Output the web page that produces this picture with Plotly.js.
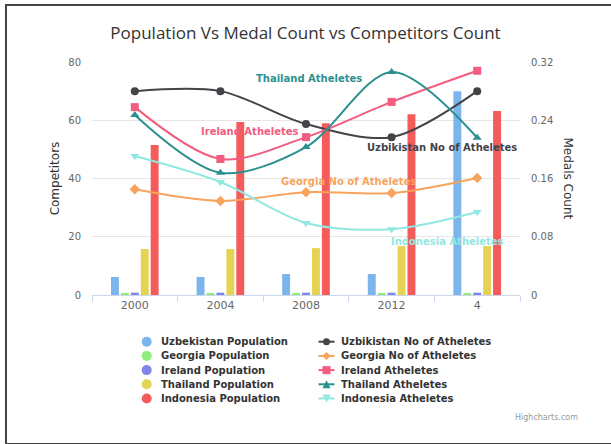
<!DOCTYPE html>
<html>
<head>
<meta charset="utf-8">
<script src="https://cdn.plot.ly/plotly-3.0.1.min.js"></script>
<style>
  html, body { margin: 0; padding: 0; background: #fff; }
  #chart { position: absolute; left: 0; top: 0; width: 611px; height: 444px; }
  #frame { position: absolute; left: 5px; top: 4px; width: 610px; height: 437px; border: 2px solid #444; pointer-events: none; }
</style>
</head>
<body>
<div id="chart"></div>
<div id="frame"></div>
<script>
// ---- data ----
const categories = ["2000", "2004", "2008", "2012", "4"];

const uzbekistanPopulation = [6.2, 6.2, 7.2, 7.2, 70];
const georgiaPopulation    = [0.7, 0.7, 0.7, 0.7, 0.7];
const irelandPopulation    = [0.8, 0.8, 0.8, 0.8, 0.8];
const thailandPopulation   = [15.8, 15.8, 16.1, 16.8, 16.8];
const indonesiaPopulation  = [51.5, 59.4, 59, 62.1, 63.2];

const uzbekistanAthletes = [70, 70, 58.7, 54.2, 70];
const georgiaAthletes    = [36.3, 32.3, 35.3, 35, 40.2];
const irelandAthletes    = [64.5, 46.7, 54.2, 66.3, 77];
const thailandAthletes   = [61.8, 42, 50.8, 76.6, 54];
const indonesiaAthletes  = [47.7, 38.8, 24.7, 22.6, 28.5];

const barNames = ["Uzbekistan Population", "Georgia Population", "Ireland Population", "Thailand Population", "Indonesia Population"];
const lineNames = ["Uzbikistan No of Atheletes", "Georgia No of Atheletes", "Ireland Atheletes", "Thailand Atheletes", "Indonesia Atheletes"];
const medalTicks = [0, 0.08, 0.16, 0.24, 0.32];

// ---- styling ----
const barColors = ["#7cb5ec", "#90ed7d", "#8085e9", "#e4d354", "#f45b5b"];
const lineColors = ["#434348", "#f7a35c", "#f15c80", "#2b908f", "#91e8e1"];
const lineSymbols = ["circle", "diamond", "square", "triangle-up", "triangle-down"];

const barSeries = [uzbekistanPopulation, georgiaPopulation, irelandPopulation, thailandPopulation, indonesiaPopulation];
const lineSeries = [uzbekistanAthletes, georgiaAthletes, irelandAthletes, thailandAthletes, indonesiaAthletes];

const FONT = "DejaVu Sans, sans-serif";
const W = 611, H = 444;
const M = { l: 92, r: 91, t: 62, b: 149 };
const PW = W - M.l - M.r, PH = H - M.t - M.b;
const px2x = px => (px - M.l) / PW;
const py2y = py => (H - M.b - py) / PH;

const traces = [];
barSeries.forEach((vals, i) => {
  traces.push({
    type: "bar", name: barNames[i], x: categories, y: vals,
    marker: { color: barColors[i] }, showlegend: false,
    hoverinfo: "x+y+name"
  });
});
lineSeries.forEach((vals, i) => {
  traces.push({
    type: "scatter", mode: "lines+markers", name: lineNames[i], x: categories, y: vals,
    line: { color: lineColors[i], width: 2, shape: "spline", smoothing: 0.9 },
    marker: { color: lineColors[i], size: 8, symbol: lineSymbols[i] },
    showlegend: false
  });
});
// invisible helper so the right (medals) axis is drawn
traces.push({ type: "scatter", mode: "markers", x: [categories[0]], y: [0], yaxis: "y2",
  marker: { opacity: 0 }, showlegend: false, hoverinfo: "skip" });

// series labels (placed in data coordinates)
const seriesLabels = [
  { text: "Thailand Atheletes", x: 2.04, y: 74.2, color: "#2b908f" },
  { text: "Ireland Atheletes", x: 1.34, y: 56.3, color: "#f15c80" },
  { text: "Uzbikistan No of Atheletes", x: 3.59, y: 50.8, color: "#434348" },
  { text: "Georgia No of Atheletes", x: 2.5, y: 39.1, color: "#f7a35c" },
  { text: "Indonesia Atheletes", x: 3.65, y: 18.2, color: "#91e8e1" }
];

const annotations = seriesLabels.map(l => ({
  text: "<b>" + l.text + "</b>", x: l.x, y: l.y, xref: "x", yref: "y",
  xanchor: "center", yanchor: "middle",
  showarrow: false, font: { family: FONT, size: 10, color: l.color }
}));
annotations.push({
  text: "Medals Count", xref: "paper", yref: "paper", x: px2x(568), y: 0.5,
  xanchor: "center", yanchor: "middle",
  textangle: 90, showarrow: false, font: { family: FONT, size: 12, color: "#333" }
});
annotations.push({
  text: "Highcharts.com", xref: "paper", yref: "paper", x: px2x(513), y: py2y(417),
  xanchor: "left", yanchor: "middle", showarrow: false, font: { family: FONT, size: 8, color: "#999" }
});

// ---- custom legend (two columns, Highcharts-like spacing) ----
const shapes = [];
const rowY = [341.7, 355.9, 370.1, 384.3, 398.5];
const LEFT_SYM = 146.7, LEFT_TXT = 159, RIGHT_SYM = 326.5, RIGHT_TXT = 338.5;
const legendFont = { family: FONT, size: 10, color: "#333" };

function markerPath(symbol, cx, cy, r) {
  const p = (x, y) => px2x(x) + "," + py2y(y);
  if (symbol === "diamond") return "M" + p(cx, cy - r) + "L" + p(cx + r, cy) + "L" + p(cx, cy + r) + "L" + p(cx - r, cy) + "Z";
  if (symbol === "square") return "M" + p(cx - r, cy - r) + "L" + p(cx + r, cy - r) + "L" + p(cx + r, cy + r) + "L" + p(cx - r, cy + r) + "Z";
  if (symbol === "triangle-up") return "M" + p(cx, cy - r) + "L" + p(cx + r, cy + r) + "L" + p(cx - r, cy + r) + "Z";
  if (symbol === "triangle-down") return "M" + p(cx - r, cy - r) + "L" + p(cx + r, cy - r) + "L" + p(cx, cy + r) + "Z";
  return null;
}

barNames.forEach((name, i) => {
  const cy = rowY[i];
  shapes.push({
    type: "circle", xref: "paper", yref: "paper",
    x0: px2x(LEFT_SYM - 5), x1: px2x(LEFT_SYM + 5), y0: py2y(cy + 5), y1: py2y(cy - 5),
    fillcolor: barColors[i], line: { width: 0 }
  });
  annotations.push({
    text: "<b>" + name + "</b>", xref: "paper", yref: "paper", x: px2x(LEFT_TXT), y: py2y(cy),
    xanchor: "left", yanchor: "middle", showarrow: false, font: legendFont
  });
});
lineNames.forEach((name, i) => {
  const cy = rowY[i];
  shapes.push({
    type: "line", xref: "paper", yref: "paper",
    x0: px2x(RIGHT_SYM - 8), x1: px2x(RIGHT_SYM + 8), y0: py2y(cy), y1: py2y(cy),
    line: { color: lineColors[i], width: 2 }
  });
  const sym = lineSymbols[i];
  if (sym === "circle") {
    shapes.push({
      type: "circle", xref: "paper", yref: "paper",
      x0: px2x(RIGHT_SYM - 3.5), x1: px2x(RIGHT_SYM + 3.5), y0: py2y(cy + 3.5), y1: py2y(cy - 3.5),
      fillcolor: lineColors[i], line: { width: 0 }
    });
  } else {
    shapes.push({
      type: "path", xref: "paper", yref: "paper", path: markerPath(sym, RIGHT_SYM, cy, 4),
      fillcolor: lineColors[i], line: { width: 0 }
    });
  }
  annotations.push({
    text: "<b>" + name + "</b>", xref: "paper", yref: "paper", x: px2x(RIGHT_TXT), y: py2y(cy),
    xanchor: "left", yanchor: "middle", showarrow: false, font: legendFont
  });
});

const layout = {
  width: W, height: H,
  margin: M,
  paper_bgcolor: "#fff", plot_bgcolor: "#fff",
  font: { family: FONT, color: "#666", size: 11 },
  title: {
    text: "Population Vs Medal Count vs Competitors Count",
    font: { family: "Open Sans, sans-serif", size: 17, color: "#333" },
    x: 0.5, xanchor: "center", y: 0.925, yanchor: "middle"
  },
  barmode: "group", bargap: 0.42, bargroupgap: 0.2,
  showlegend: false,
  xaxis: {
    type: "category", categoryorder: "array", categoryarray: categories,
    showline: true, linecolor: "#ccd6eb", linewidth: 1,
    ticks: "outside", tickson: "boundaries", ticklen: 6, tickcolor: "#ccd6eb",
    showgrid: false, tickfont: { size: 11, color: "#666" }, fixedrange: true
  },
  yaxis: {
    range: [0, 80], dtick: 20, tick0: 0,
    gridcolor: "#e6e6e6", zeroline: false, showline: false,
    ticklabelstandoff: 10,
    title: { text: "Competitors", font: { family: FONT, size: 12, color: "#333" }, standoff: 6 },
    tickfont: { size: 10, color: "#666" }, fixedrange: true
  },
  yaxis2: {
    overlaying: "y", side: "right", range: [0, 0.32],
    tickvals: medalTicks, ticktext: medalTicks.map(String),
    showgrid: false, zeroline: false, showline: false,
    ticklabelstandoff: 10, tickfont: { size: 10, color: "#666" }, fixedrange: true
  },
  annotations: annotations,
  shapes: shapes
};

Plotly.newPlot("chart", traces, layout, { displayModeBar: false });
</script>
</body>
</html>
